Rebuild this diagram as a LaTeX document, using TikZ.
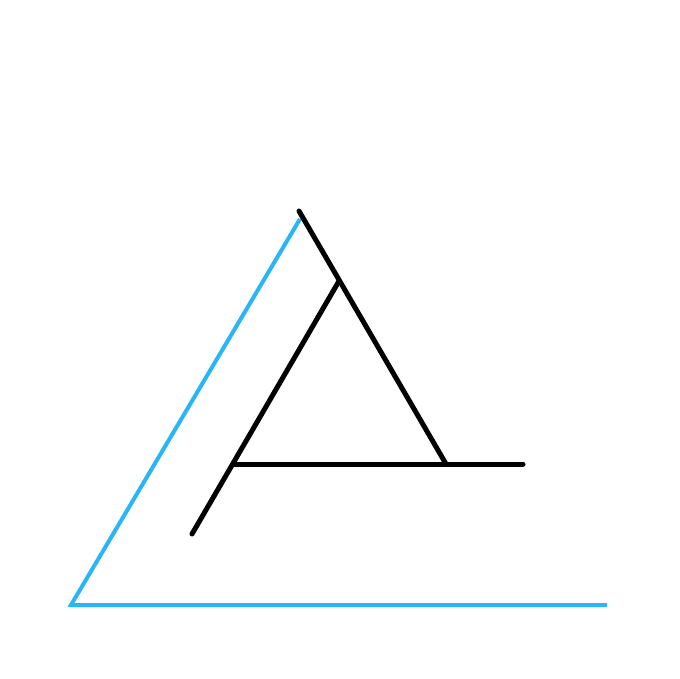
\documentclass[tikz,border=0pt]{standalone}
\usepackage{tikz}
\usetikzlibrary{positioning}
\definecolor{skyblue}{RGB}{41,182,246}

\begin{document}
\begin{tikzpicture}
		[x=0.75pt, y=-0.75pt,
		outer/.style ={draw=skyblue, line width=3pt, line cap=butt, line join=miter},
		inner/.style ={draw=black, line width=3.75pt, line cap=round}]
		\useasboundingbox (0,0) rectangle (680,678);
		
		\coordinate (top) at (299,211);
		\coordinate (apex) at (339,281);
		\coordinate (right) at (446,464);
		\coordinate (left) at (234,464);
		\coordinate (tail) at (192,534);
		\coordinate (bar) at (523,464);
		\coordinate (btop) at (300,219);
		\coordinate (corner) at (71,605);
		\coordinate (bend) at (607,605);
		
		\draw[outer] (btop) -- (corner) -- (bend);
		
		\path[inner]
		(top) edge (right)
		(apex) edge (tail)
		(left) edge (bar);

	\end{tikzpicture}
\end{document}
